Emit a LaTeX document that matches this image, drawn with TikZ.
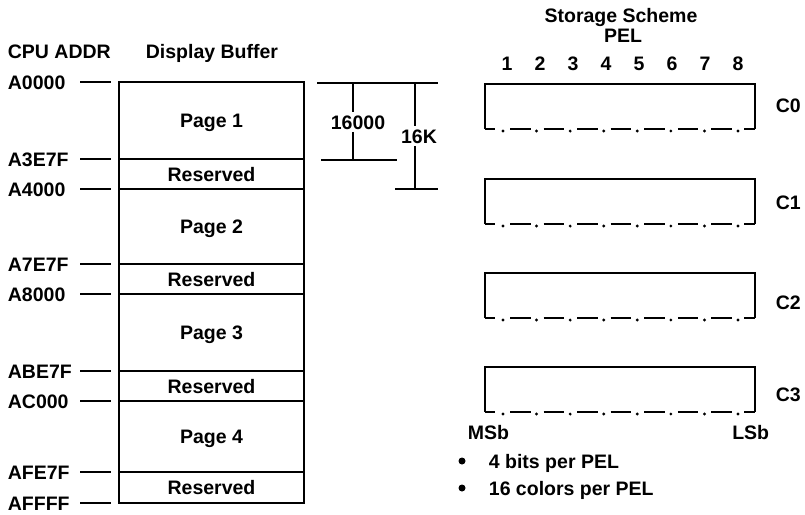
\documentclass[tikz,border=0pt]{standalone}
\usepackage{fontspec}
\setmainfont{Liberation Sans}
\begin{document}
\begin{tikzpicture}[x=1pt,y=-1pt,line width=1.8pt,
  every node/.style={font=\fontsize{19.5}{22}\selectfont\bfseries, inner sep=0pt, text height=14pt, text depth=0pt},
  lbl/.style={anchor=west},
  seg/.style={draw, minimum width=185pt},
  dimlbl/.style={fill=white, inner sep=2pt},
  bul/.style={circle, fill=black, minimum size=7pt, text height=, text depth=}]
\useasboundingbox (0,0) rectangle (805,514);

% headers
\node[lbl] (hcpu) at (7,51) {CPU ADDR};
\node (hbuf) at (212,51) {Display Buffer};

% buffer segments
\node[seg, minimum height=77pt] (p1) at (211.5,120.5) {Page 1};
\node[seg, minimum height=30pt] (r1) at (211.5,174) {Reserved};
\node[seg, minimum height=75pt] (p2) at (211.5,226.5) {Page 2};
\node[seg, minimum height=30pt] (r2) at (211.5,279) {Reserved};
\node[seg, minimum height=77pt] (p3) at (211.5,332.5) {Page 3};
\node[seg, minimum height=30pt] (r3) at (211.5,386) {Reserved};
\node[seg, minimum height=71pt] (p4) at (211.5,436.5) {Page 4};
\node[seg, minimum height=31pt] (r4) at (211.5,487.5) {Reserved};

% addresses with ticks
\foreach \t/\y in {A0000/82, A3E7F/159, A4000/189, A7E7F/264, A8000/294, ABE7F/371, AC000/401, AFE7F/472, AFFFF/503}{
  \node[lbl] (a\t) at (7,\y) {\t};
  \coordinate (t\t) at (111,\y);
  \draw ([xshift=-31pt]t\t) -- (t\t);
}

% dimension lines
\coordinate (dl) at (317,83);
\coordinate (dr) at (438,83);
\draw (dl) -- (dr);
\coordinate (d1t) at (353,83);
\coordinate (d1b) at (353,160);
\node[dimlbl] (n16000) at (358,122) {16000};
\draw (d1t) -- (d1t |- n16000.north);
\draw (d1b |- n16000.south) -- (d1b);
\draw (321,160) -- (397,160);
\coordinate (d2t) at (415,83);
\coordinate (d2b) at (415,189);
\node[dimlbl] (n16k) at (419,136) {16K};
\draw (d2t) -- (d2t |- n16k.north);
\draw (d2b |- n16k.south) -- (d2b);
\draw (395,189) -- (438,189);

% storage scheme
\node (hss) at (621,15) {Storage Scheme};
\node (hpel) at (623,35) {PEL};
\foreach \k in {1,...,8}{
  \node (pel\k) at ({507+33*(\k-1)},63) {\k};
}
\foreach \i/\t/\c in {0/84/105,1/179/202,2/273/302,3/367/394}{
  \pgfmathsetmacro{\b}{\t+45}
  \draw (485,\b) -- (485,\t) -- (755,\t) -- (755,\b);
  \draw (485,\b) -- (495,\b);
  \draw (744,\b) -- (755,\b);
  \foreach \k in {0,...,7}{
    \fill ({503+33.57*\k},\b+2) circle (1.6pt);
  }
  \foreach \k in {0,...,6}{
    \draw ({503+33.57*\k+7},\b) -- ({503+33.57*(\k+1)-6},\b);
  }
  \node[lbl] (c\i) at (775,\c) {C\i};
}
\node[lbl] (msb) at (467,432) {MSb};
\node[anchor=east] (lsb) at (770,432) {LSb};

% bullets
\node[bul] (b1) at (462,461) {};
\node[lbl] (t1) at (488,461) {4 bits per PEL};
\node[bul] (b2) at (462,488) {};
\node[lbl] (t2) at (488,488) {16 colors per PEL};
\end{tikzpicture}
\end{document}
